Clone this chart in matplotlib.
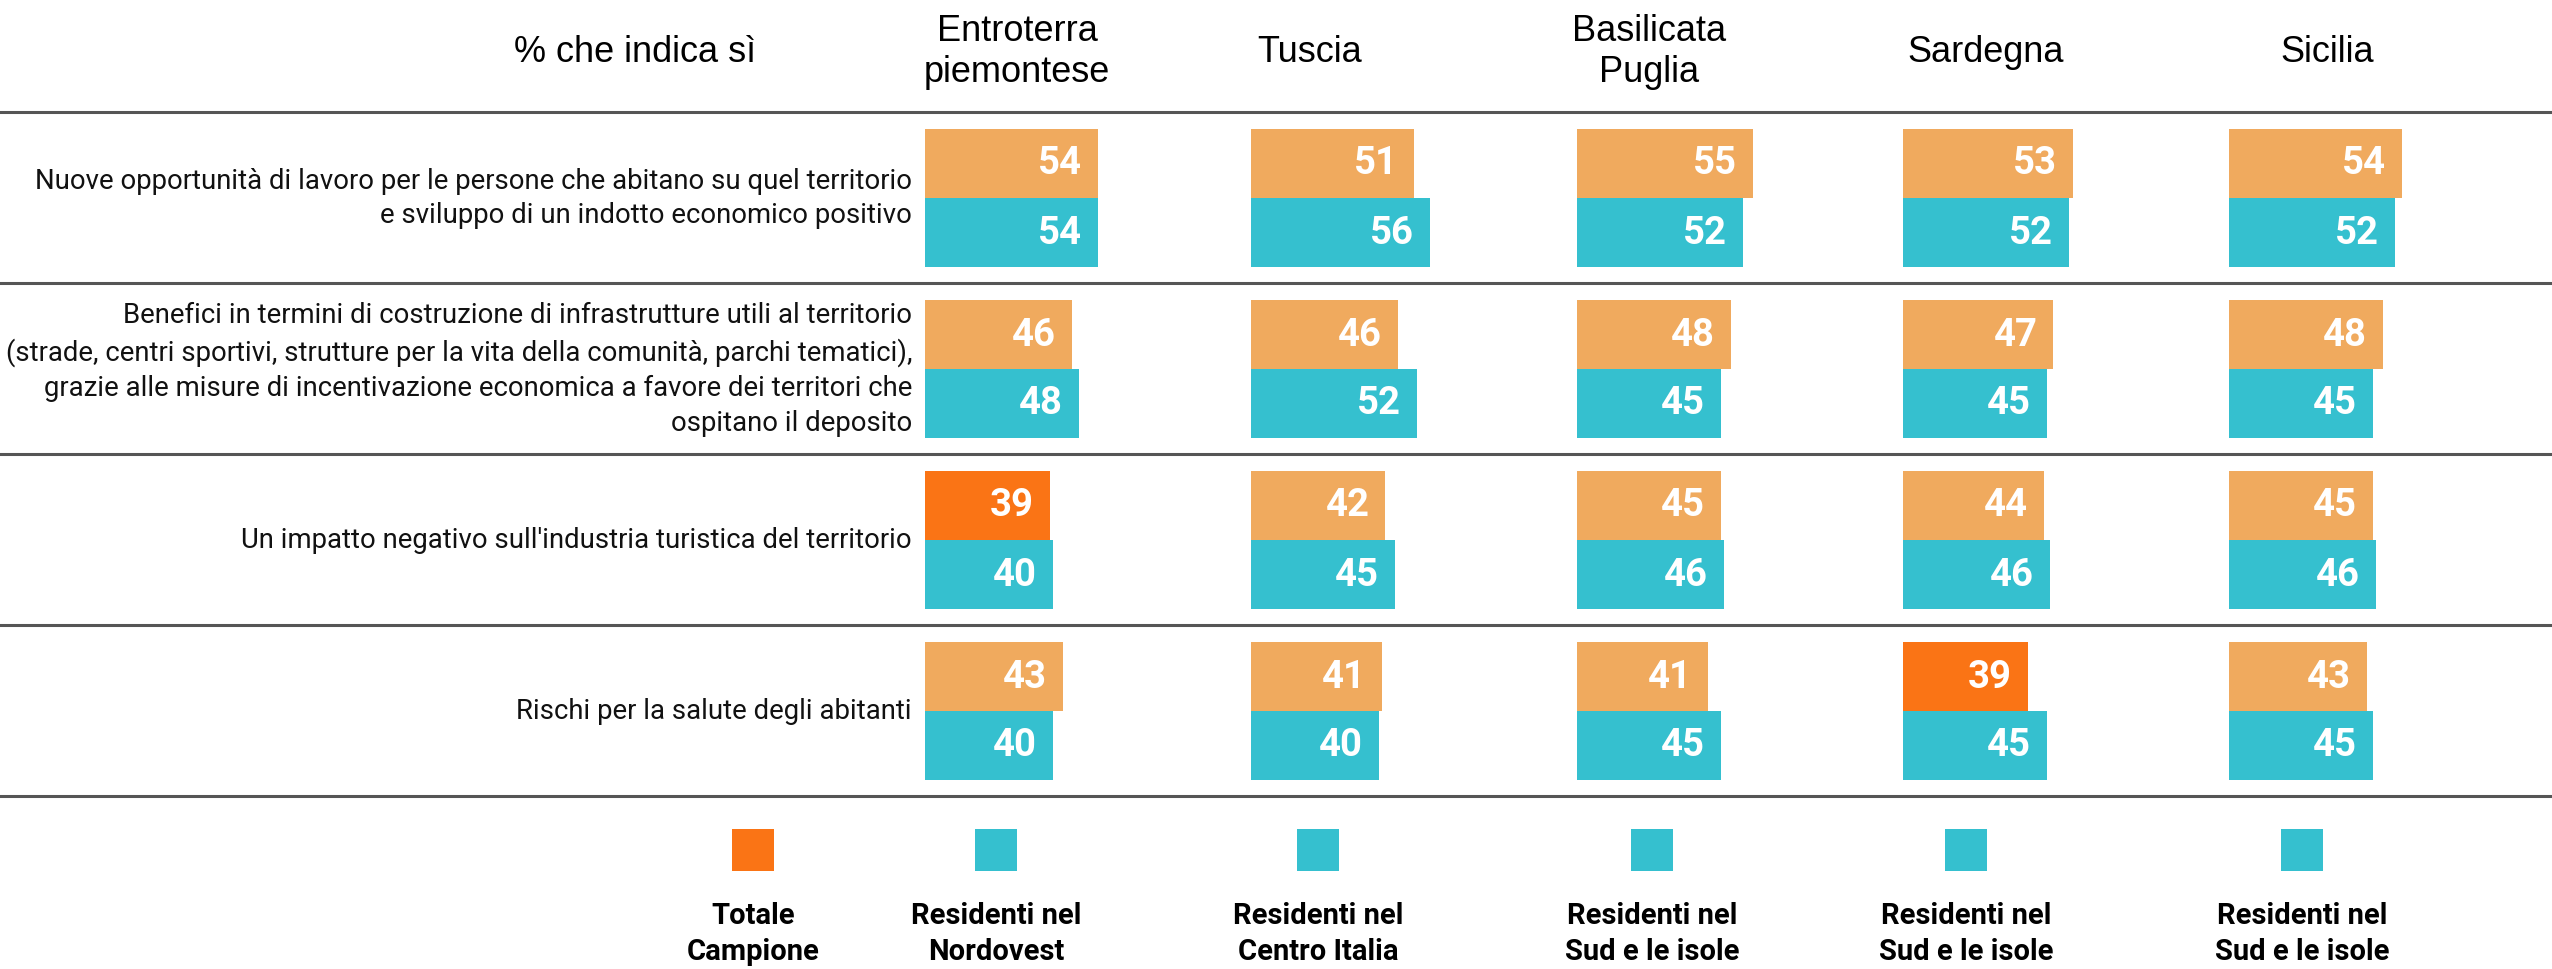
import matplotlib
matplotlib.use("Agg")
import matplotlib.pyplot as plt


# =========================================================
# Data
# =========================================================
regions = ["Entroterra\npiemontese", "Tuscia", "Basilicata\nPuglia", "Sardegna", "Sicilia"]

items = [
    "Nuove opportunità di lavoro per le persone che abitano su quel territorio\n"
    "e sviluppo di un indotto economico positivo",
    "Benefici in termini di costruzione di infrastrutture utili al territorio\n"
    "(strade, centri sportivi, strutture per la vita della comunità, parchi tematici),\n"
    "grazie alle misure di incentivazione economica a favore dei territori che\n"
    "ospitano il deposito",
    "Un impatto negativo sull'industria turistica del territorio",
    "Rischi per la salute degli abitanti",
]

# Totale campione (one list per item, one value per region)
totale = [
    [54, 51, 55, 53, 54],
    [46, 46, 48, 47, 48],
    [39, 42, 45, 44, 45],
    [43, 41, 41, 39, 43],
]

# Residenti nella macro-area
residenti = [
    [54, 56, 52, 52, 52],
    [48, 52, 45, 45, 45],
    [40, 45, 46, 46, 46],
    [40, 40, 45, 45, 45],
]

# (item, region) where the total is highlighted
highlight = [(2, 0), (3, 3)]

legend_labels = [
    "Totale\nCampione",
    "Residenti nel\nNordovest",
    "Residenti nel\nCentro Italia",
    "Residenti nel\nSud e le isole",
    "Residenti nel\nSud e le isole",
    "Residenti nel\nSud e le isole",
]

header_left = "% che indica sì"


# =========================================================
# Style
# =========================================================
C_TOT = "#F0AA5E"
C_HIGH = "#FA7415"
C_RES = "#35C0CF"
C_LINE = "#555555"

W, H = 2552, 970
UNIT = 3.2          # px per percentage point
X0 = 925            # px where the first column starts
COL = 326 / UNIT    # column spacing in value units
ROW_PX = 171
Y0 = 198.5


def ux(px):
    return (px - X0) / UNIT


def uy(px):
    return (px - Y0) / ROW_PX


fig = plt.figure(figsize=(W / 100, H / 100), dpi=100)
ax = fig.add_axes([0, 0, 1, 1])
ax.set_xlim(ux(0), ux(W))
ax.set_ylim(uy(H), uy(0))
ax.axis("off")

bh = 69 / ROW_PX

# =========================================================
# Bars
# =========================================================
for i in range(len(items)):
    for j in range(len(regions)):
        off = j * COL
        c = C_HIGH if (i, j) in highlight else C_TOT
        ax.barh(i - bh / 2, totale[i][j], height=bh, left=off, color=c)
        ax.barh(i + bh / 2, residenti[i][j], height=bh, left=off, color=C_RES)
        ax.text(off + totale[i][j] - 5, i - bh / 2, str(totale[i][j]),
                ha="right", va="center", color="white", fontsize=27.5,
                fontweight="bold", family="Roboto")
        ax.text(off + residenti[i][j] - 5, i + bh / 2, str(residenti[i][j]),
                ha="right", va="center", color="white", fontsize=27.5,
                fontweight="bold", family="Roboto")

    ax.text(ux(912), i, items[i], ha="right", va="center", fontsize=19.8,
            family="Roboto", color="#111111", linespacing=1.38)

# separators
for k in range(len(items) + 1):
    ax.axhline(k - 0.5, color=C_LINE, lw=2.2)

# =========================================================
# Header
# =========================================================
ax.text(ux(635), uy(52), header_left, ha="center", va="center",
        fontsize=26, family="Liberation Sans")
header_px = [1017, 1310, 1649, 1986, 2327]
for x, r in zip(header_px, regions):
    ax.text(ux(x), uy(52), r, ha="center", va="center", fontsize=26,
            family="Liberation Sans", linespacing=1.22)

# =========================================================
# Legend
# =========================================================
leg_px = [753, 996, 1318, 1652, 1966, 2302]
leg_col = [C_HIGH] + [C_RES] * 5
for x, c, lab in zip(leg_px, leg_col, legend_labels):
    ax.bar(ux(x), 42 / ROW_PX, width=42 / UNIT, bottom=uy(830), color=c)
    ax.text(ux(x), uy(934), lab, ha="center", va="center", fontsize=21,
            fontweight="bold", family="Roboto", linespacing=1.35)

fig.savefig("out.png", dpi=100)
